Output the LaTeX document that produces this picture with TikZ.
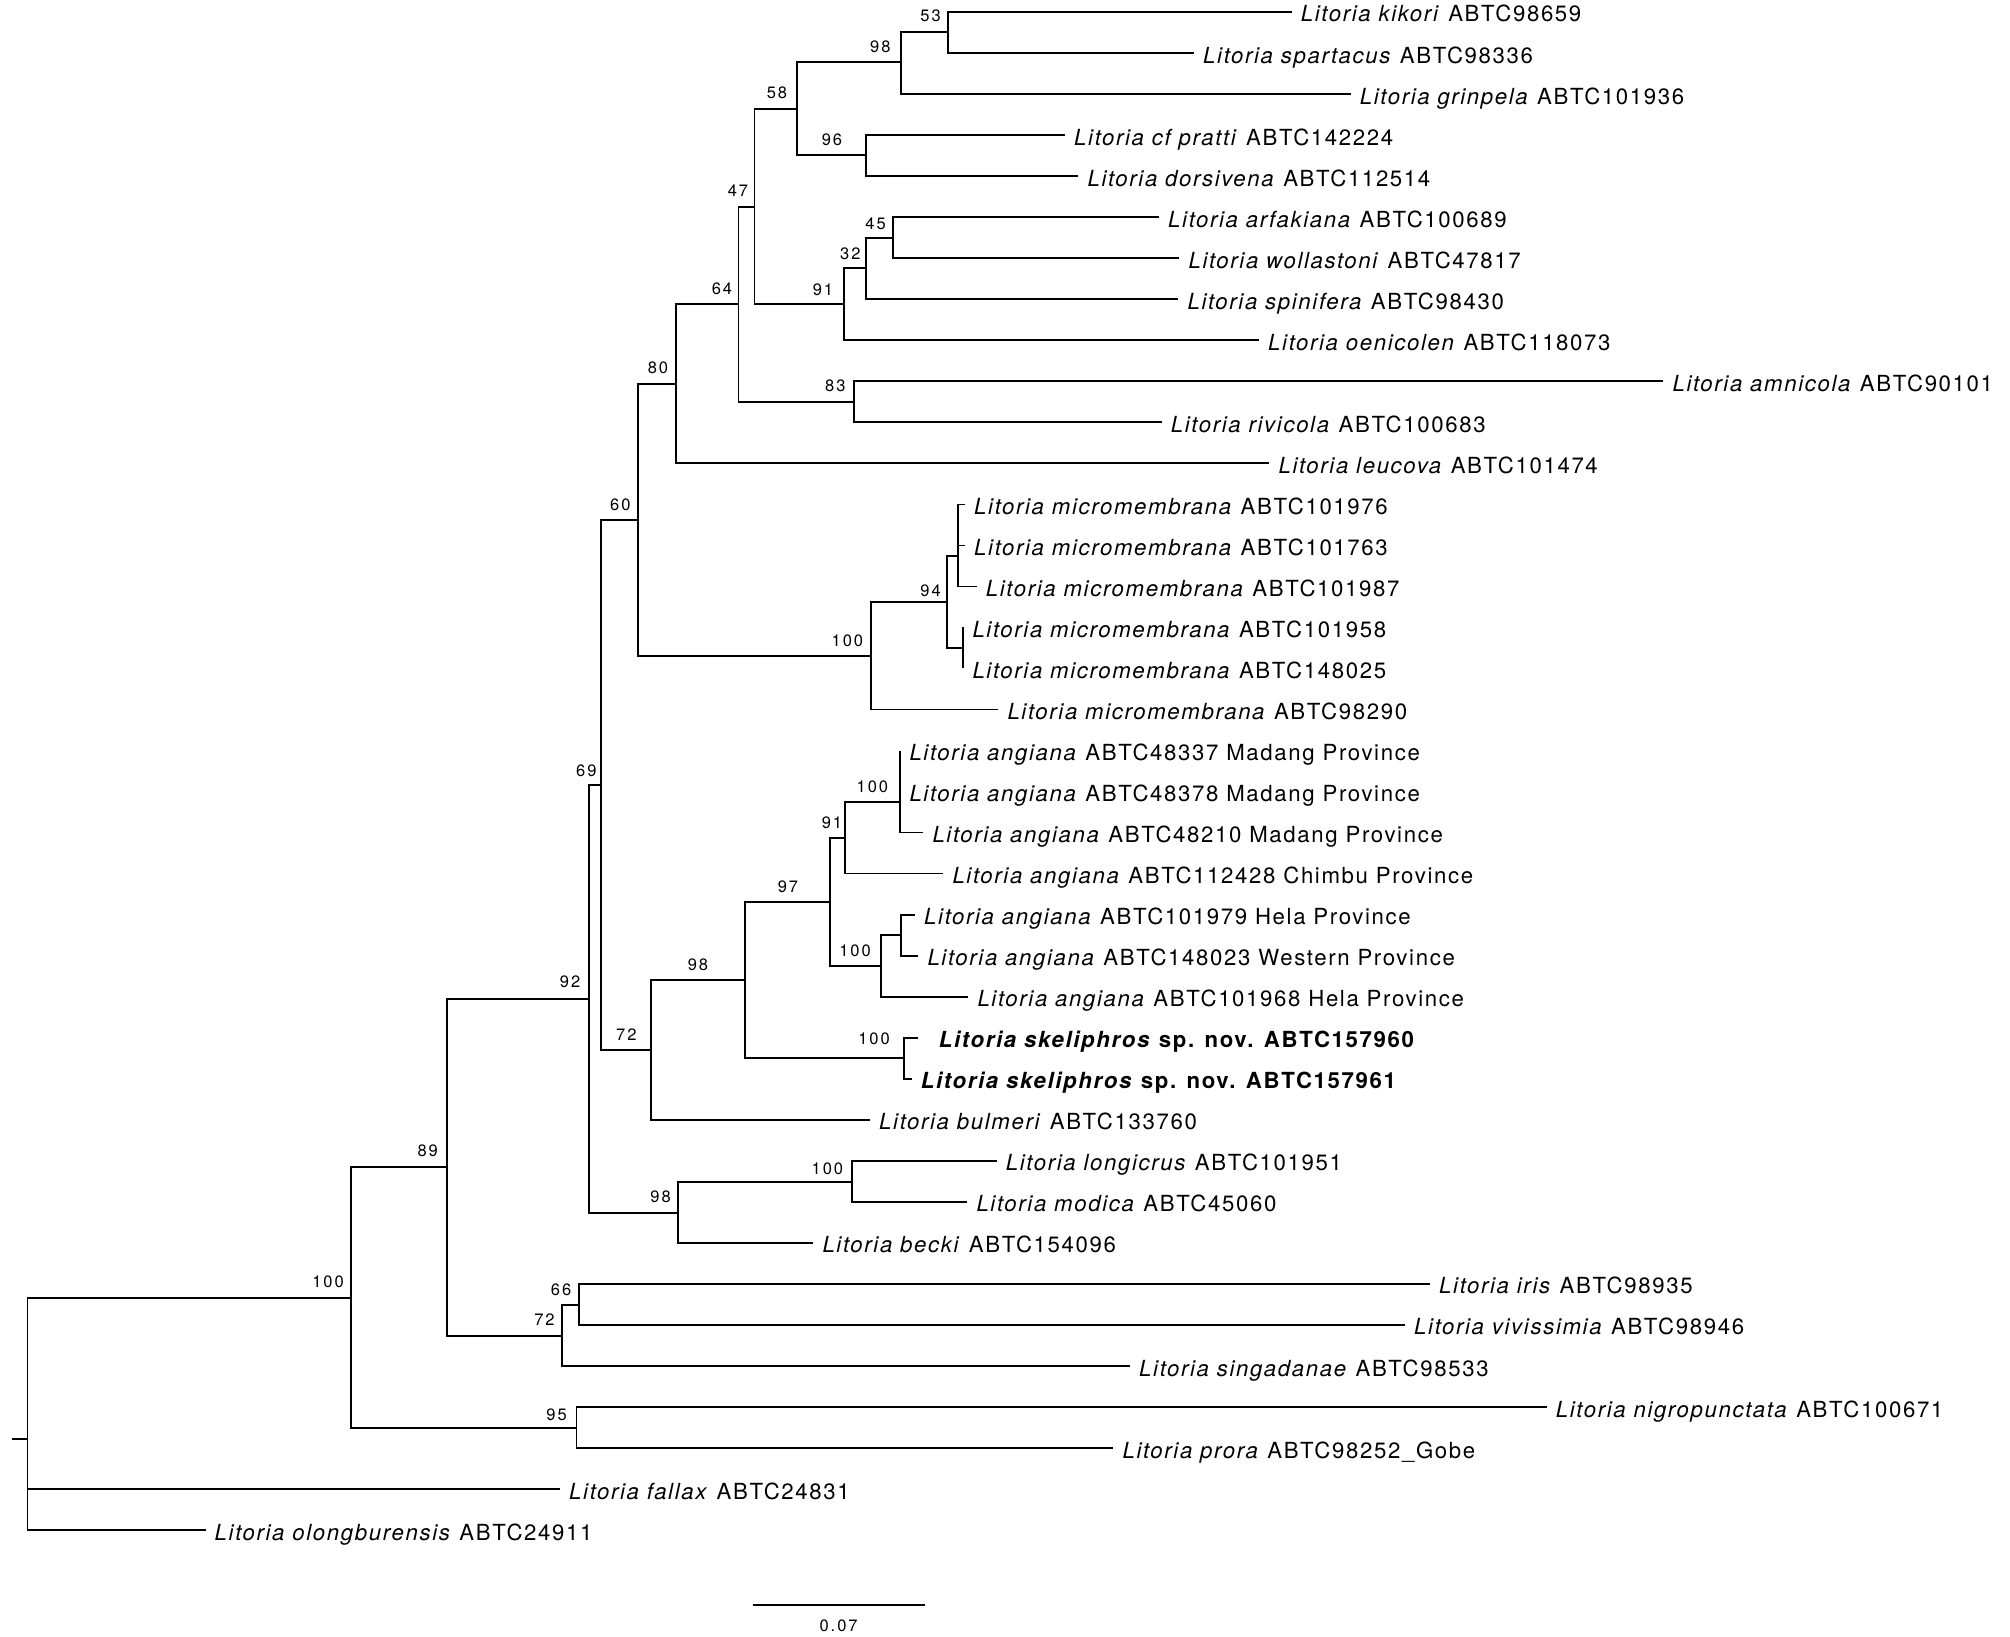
\documentclass[tikz,border=0pt]{standalone}
\usepackage{fontspec}
\setmainfont{TeX Gyre Heros}[LetterSpace=7.4]
\newfontfamily\bsfamily[LetterSpace=12]{TeX Gyre Heros}
\newcommand\leaffont{\fontsize{22.2}{26}\selectfont}
\newcommand\bsfont{\bsfamily\fontsize{16.5}{19}\selectfont}
\newcommand\leafat[4]{%
  \coordinate (#1) at (#3,{12+41.03*#2});
  \node[leaftext] (#1t) at ([xshift=9pt,yshift=-10pt]#1) {#4};}
\newcommand\bsat[4]{\node[bslabel] (#1) at (#2,#3) {#4};}
\begin{document}
\begin{tikzpicture}[x=1pt,y=-1pt,
  branch/.style={line width=1.7pt,black},
  leaftext/.style={anchor=base west,inner sep=0pt,font=\leaffont},
  bslabel/.style={anchor=base east,inner sep=0pt,font=\bsfont}]
\useasboundingbox (0,0) rectangle (2010,1637);
% internal nodes
\coordinate (rootstub) at (11.5,1439);
\coordinate (root) at (27.5,1439);
\coordinate (n100a) at (351,1297.7);
\coordinate (n89) at (447,1167);
\coordinate (n92) at (589.3,998.7);
\coordinate (n69) at (600.7,785);
\coordinate (n60) at (638.3,520);
\coordinate (n80) at (676.3,383.7);
\coordinate (n64) at (738.5,304);
\coordinate (n47) at (754.5,207);
\coordinate (n58) at (797,109);
\coordinate (n98a) at (900.7,62.3);
\coordinate (n53) at (948.3,32.3);
\coordinate (n96) at (866,155.3);
\coordinate (n91a) at (844.3,304);
\coordinate (n32) at (865.7,268);
\coordinate (n45) at (892.7,238);
\coordinate (n83) at (854,401.7);
\coordinate (n100m) at (871,656);
\coordinate (n94) at (946.7,601.7);
\coordinate (nm3) at (958.3,555.7);
\coordinate (nm2) at (963.3,648);
\coordinate (n72a) at (650.7,1050);
\coordinate (n98b) at (744.7,980);
\coordinate (n97) at (829.7,902);
\coordinate (n91b) at (844.7,837.7);
\coordinate (n100a3) at (900.3,801.7);
\coordinate (n100h) at (880.7,965.7);
\coordinate (nh2) at (900.7,935);
\coordinate (nsk) at (904.3,1058.3);
\coordinate (n98c) at (677.7,1212.7);
\coordinate (n100l) at (851.7,1182);
\coordinate (n72b) at (562,1335.7);
\coordinate (n66) at (579.3,1305);
\coordinate (n95) at (576.5,1427.7);
% leaves
\leafat{kikori}{0}{1291.7}{\textit{Litoria kikori} ABTC98659}
\leafat{spartacus}{1}{1194}{\textit{Litoria spartacus} ABTC98336}
\leafat{grinpela}{2}{1350.7}{\textit{Litoria grinpela} ABTC101936}
\leafat{pratti}{3}{1065}{\textit{Litoria cf pratti} ABTC142224}
\leafat{dorsivena}{4}{1078.3}{\textit{Litoria dorsivena} ABTC112514}
\leafat{arfakiana}{5}{1159}{\textit{Litoria arfakiana} ABTC100689}
\leafat{wollastoni}{6}{1179.3}{\textit{Litoria wollastoni} ABTC47817}
\leafat{spinifera}{7}{1178.3}{\textit{Litoria spinifera} ABTC98430}
\leafat{oenicolen}{8}{1259}{\textit{Litoria oenicolen} ABTC118073}
\leafat{amnicola}{9}{1663.3}{\textit{Litoria amnicola} ABTC90101}
\leafat{rivicola}{10}{1161.7}{\textit{Litoria rivicola} ABTC100683}
\leafat{leucova}{11}{1269.3}{\textit{Litoria leucova} ABTC101474}
\leafat{mma}{12}{965}{\textit{Litoria micromembrana} ABTC101976}
\leafat{mmb}{13}{965}{\textit{Litoria micromembrana} ABTC101763}
\leafat{mmc}{14}{976.7}{\textit{Litoria micromembrana} ABTC101987}
\leafat{mmd}{15}{963.3}{\textit{Litoria micromembrana} ABTC101958}
\leafat{mme}{16}{963.3}{\textit{Litoria micromembrana} ABTC148025}
\leafat{mmf}{17}{998.3}{\textit{Litoria micromembrana} ABTC98290}
\leafat{anga}{18}{900.3}{\textit{Litoria angiana} ABTC48337 Madang Province}
\leafat{angb}{19}{900.3}{\textit{Litoria angiana} ABTC48378 Madang Province}
\leafat{angc}{20}{923.3}{\textit{Litoria angiana} ABTC48210 Madang Province}
\leafat{angd}{21}{943.3}{\textit{Litoria angiana} ABTC112428 Chimbu Province}
\leafat{ange}{22}{915}{\textit{Litoria angiana} ABTC101979 Hela Province}
\leafat{angf}{23}{918.3}{\textit{Litoria angiana} ABTC148023 Western Province}
\leafat{angg}{24}{968.3}{\textit{Litoria angiana} ABTC101968 Hela Province}
\coordinate (ska) at (917.7,{12+41.03*25});
\node[leaftext] (skat) at ([xshift=21pt,yshift=-10pt]ska) {{\bfseries\itshape Litoria skeliphros} \textbf{sp. nov. ABTC157960}};
\leafat{skb}{26}{911.7}{{\bfseries\itshape Litoria skeliphros} \textbf{sp. nov. ABTC157961}}
\leafat{bulmeri}{27}{870}{\textit{Litoria bulmeri} ABTC133760}
\leafat{longicrus}{28}{996.7}{\textit{Litoria longicrus} ABTC101951}
\leafat{modica}{29}{967.3}{\textit{Litoria modica} ABTC45060}
\leafat{becki}{30}{813.3}{\textit{Litoria becki} ABTC154096}
\leafat{iris}{31}{1430}{\textit{Litoria iris} ABTC98935}
\leafat{vivissimia}{32}{1405}{\textit{Litoria vivissimia} ABTC98946}
\leafat{singadanae}{33}{1130}{\textit{Litoria singadanae} ABTC98533}
\leafat{nigro}{34}{1546.7}{\textit{Litoria nigropunctata} ABTC100671}
\leafat{prora}{35}{1113.3}{\textit{Litoria prora} ABTC98252\_Gobe}
\leafat{fallax}{36}{560}{\textit{Litoria fallax} ABTC24831}
\leafat{olong}{37}{205.5}{\textit{Litoria olongburensis} ABTC24911}
% branches
\draw[branch] (rootstub) -- (root);
\foreach \p/\c in {root/n100a, root/fallax, root/olong,
  n100a/n89, n100a/n95, n89/n92, n89/n72b, n92/n69, n92/n98c,
  n69/n60, n69/n72a, n60/n80, n60/n100m, n80/n64, n80/leucova,
  n64/n47, n64/n83, n47/n58, n47/n91a, n58/n98a, n58/n96,
  n98a/n53, n98a/grinpela, n53/kikori, n53/spartacus,
  n96/pratti, n96/dorsivena, n91a/n32, n91a/oenicolen,
  n32/n45, n32/spinifera, n45/arfakiana, n45/wollastoni,
  n83/amnicola, n83/rivicola, n100m/n94, n100m/mmf,
  n94/nm3, n94/nm2, nm3/mma, nm3/mmb, nm3/mmc, nm2/mmd, nm2/mme,
  n72a/n98b, n72a/bulmeri, n98b/n97, n98b/nsk, n97/n91b, n97/n100h,
  n91b/n100a3, n91b/angd, n100a3/anga, n100a3/angb, n100a3/angc,
  n100h/nh2, n100h/angg, nh2/ange, nh2/angf, nsk/ska, nsk/skb,
  n98c/n100l, n98c/becki, n100l/longicrus, n100l/modica,
  n72b/n66, n72b/singadanae, n66/iris, n66/vivissimia,
  n95/nigro, n95/prora}
  \draw[branch] (\p) |- (\c);
% bootstrap values
\bsat{b53}{941}{22}{53}
\bsat{b98a}{890.7}{52.3}{98}
\bsat{b58}{787.3}{99}{58}
\bsat{b96}{842.3}{145.7}{96}
\bsat{b47}{748.3}{196.7}{47}
\bsat{b45}{886}{229.3}{45}
\bsat{b32}{860.7}{260}{32}
\bsat{b91a}{833.3}{296}{91}
\bsat{b64}{732.3}{294.3}{64}
\bsat{b80}{668.3}{373.3}{80}
\bsat{b83}{845.7}{391.7}{83}
\bsat{b60}{630.7}{510}{60}
\bsat{b94}{941}{596}{94}
\bsat{b100m}{863.3}{646}{100}
\bsat{b69}{596.7}{776.7}{69}
\bsat{b100a3}{888.3}{792.3}{100}
\bsat{b91b}{842.3}{828.3}{91}
\bsat{b97}{798.3}{892.3}{97}
\bsat{b100h}{871}{956}{100}
\bsat{b92}{580.5}{987.7}{92}
\bsat{b98b}{708.3}{970}{98}
\bsat{b72a}{636.7}{1040}{72}
\bsat{bsk}{890}{1044}{100}
\bsat{b100l}{843.3}{1174.3}{100}
\bsat{b98c}{671}{1202.7}{98}
\bsat{b89}{438.1}{1156.7}{89}
\bsat{b100a}{344}{1287.7}{100}
\bsat{b66}{571.4}{1295}{66}
\bsat{b72b}{554.8}{1325.7}{72}
\bsat{b95}{566.9}{1420}{95}
% scale bar
\coordinate (sba) at (752.6,1605.3);
\coordinate (sbb) at (924.7,1605.3);
\draw[branch] (sba) -- (sbb);
\node[bslabel,anchor=base] (sbt) at (838.6,1631.7) {0.07};
\end{tikzpicture}
\end{document}
